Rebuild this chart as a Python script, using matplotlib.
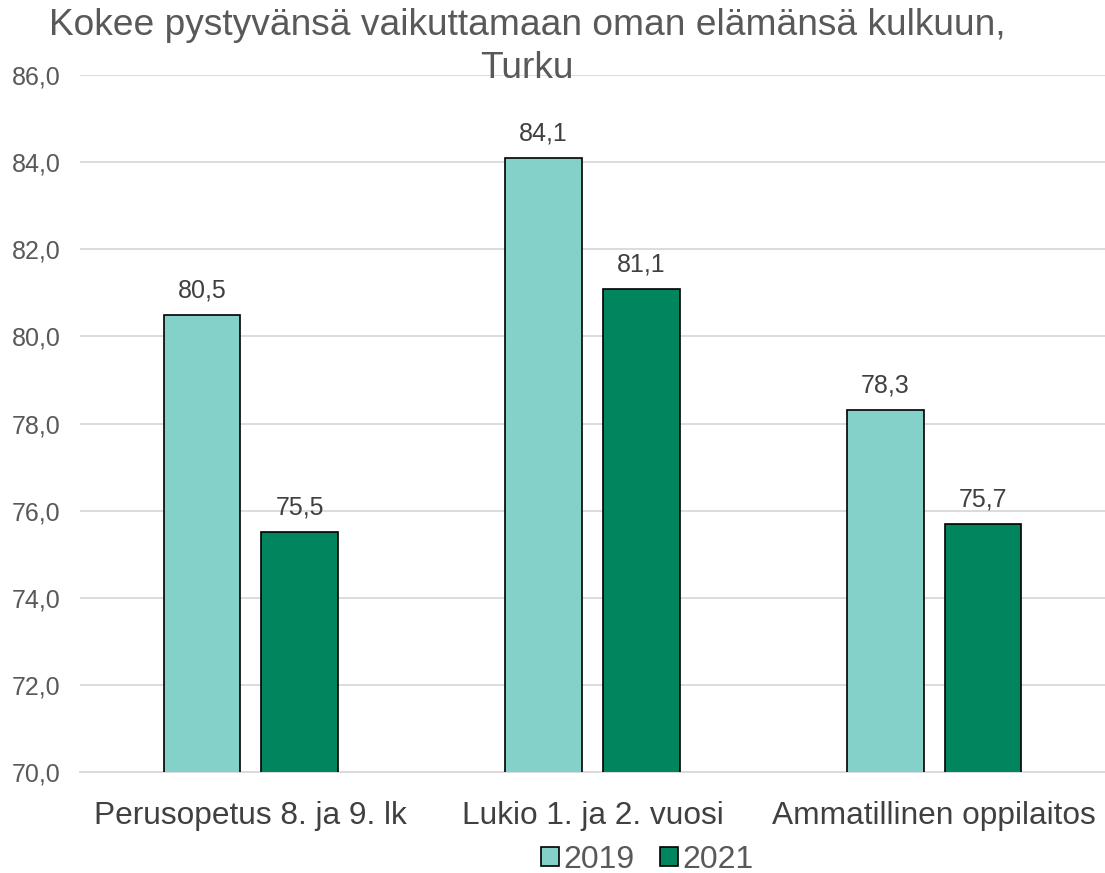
import matplotlib.pyplot as plt
import numpy as np

plt.rcParams['font.family'] = ['Liberation Sans', 'DejaVu Sans']

kategoriat = ["Perusopetus 8. ja 9. lk", "Lukio 1. ja 2. vuosi", "Ammatillinen oppilaitos"]
vuodet = ["2019", "2021"]
arvot_2019 = [80.5, 84.1, 78.3]
arvot_2021 = [75.5, 81.1, 75.7]
varit = ["#84D1C9", "#00855F"]
otsikko = ["Kokee pystyvänsä vaikuttamaan oman elämänsä kulkuun,", "Turku"]

fig = plt.figure(figsize=(11.05, 8.73), dpi=100)
ax = fig.add_axes([0.0724, 0.1157, 0.9276, 0.7983])

x = np.arange(len(kategoriat))
w = 0.225
off = 0.143
b1 = ax.bar(x - off, arvot_2019, w, color=varit[0], edgecolor="black", linewidth=1.2, label=vuodet[0], zorder=3)
b2 = ax.bar(x + off, arvot_2021, w, color=varit[1], edgecolor="black", linewidth=1.2, label=vuodet[1], zorder=3)

for bars in (b1, b2):
    for b in bars:
        ax.annotate(f"{b.get_height():.1f}".replace(".", ","),
                    (b.get_x() + b.get_width() / 2, b.get_height()),
                    xytext=(0, 9), textcoords="offset points",
                    ha="center", va="bottom", fontsize=18, color="#404040")

ax.set_ylim(70, 86)
ax.set_xlim(-0.5, 2.5)
ax.set_yticks(np.arange(70, 87, 2))
ax.set_yticklabels([f"{v:.1f}".replace(".", ",") for v in np.arange(70, 87, 2)])
ax.set_xticks(x)
ax.set_xticklabels(kategoriat, fontsize=22.8, color="#404040")
ax.tick_params(axis="y", labelsize=18, labelcolor="#595959", length=0, pad=14)
ax.tick_params(axis="x", length=0, pad=21)
ax.grid(axis="y", color="#D9D9D9", linewidth=1.3, zorder=0)
for s in ["top", "right", "left"]:
    ax.spines[s].set_visible(False)
ax.spines["bottom"].set_color("#D9D9D9")
ax.spines["bottom"].set_linewidth(1.3)

# otsikko kahtena rivinä
fig.text(0.477, 0.96, otsikko[0], ha="center", va="baseline", fontsize=26.7, color="#595959")
fig.text(0.477, 0.911, otsikko[1], ha="center", va="baseline", fontsize=26.7, color="#595959")

fig.legend(loc="center", bbox_to_anchor=(0.586, 0.015), ncol=2, frameon=False,
           fontsize=23, handlelength=0.55, handleheight=0.55, handletextpad=0.15,
           columnspacing=0.8, labelcolor="#595959", borderpad=0)

fig.savefig("out.png", dpi=100)
